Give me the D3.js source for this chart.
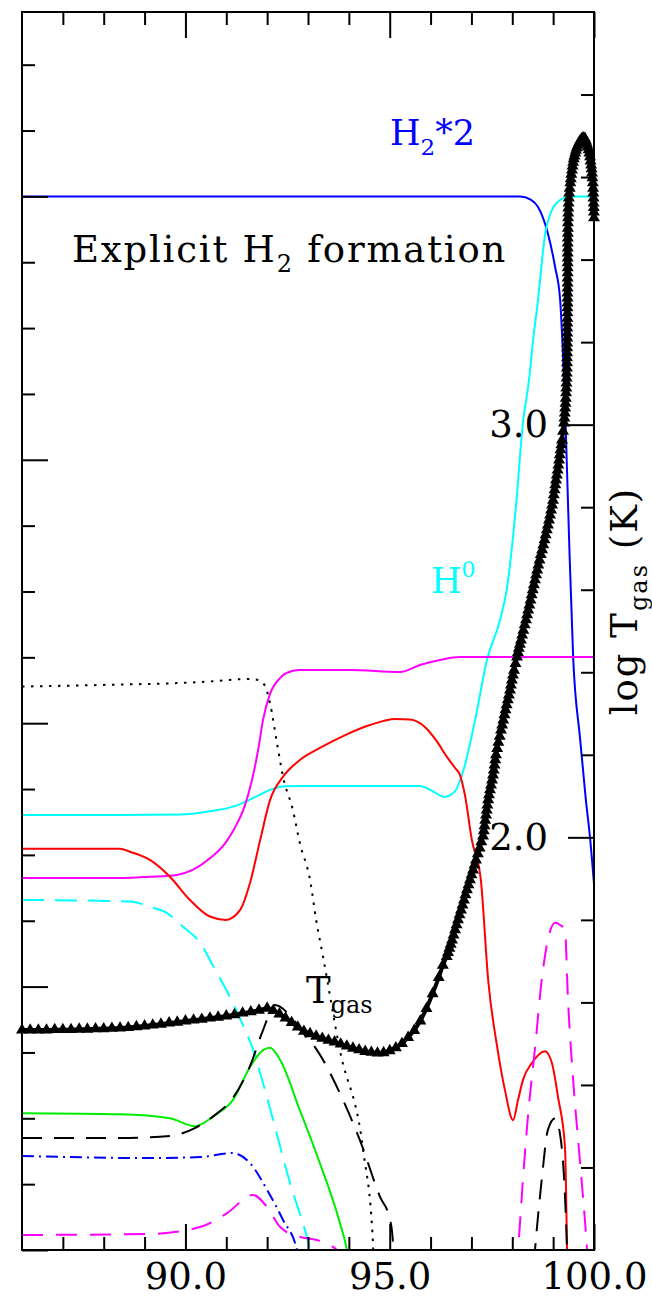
<!DOCTYPE html>
<html>
<head>
<meta charset="utf-8">
<script src="https://cdn.jsdelivr.net/npm/d3@7"></script>
<style>
  body { margin: 0; background: #fff; }
  svg text { font-family: "DejaVu Serif", serif; }
</style>
</head>
<body>
<div id="chart"></div>
<script>
// depth axis (bottom/top) and the two vertical scales
var depthDomain = [86, 100];
var abundDomain = [-4, 0.7];   // left axis, log abundance
var tempDomain = [1, 4];       // right axis, log T_gas

var xMajor = [90, 95, 100];
var xMinor = [87, 88, 89, 91, 92, 93, 94, 96, 97, 98, 99];
var xLabels = ["90.0", "95.0", "100.0"];
var abundMajor = [-4, -3, -2, -1, 0];
var abundMinor = [-3.75, -3.5, -3.25, -2.75, -2.5, -2.25, -1.75, -1.5, -1.25, -0.75, -0.5, -0.25, 0.25, 0.5];
var tempMajor = [2, 3];
var tempMinor = [1.2, 1.4, 1.6, 1.8, 2.2, 2.4, 2.6, 2.8, 3.2, 3.4, 3.6, 3.8];

// [depth, log abundance]
var h2x2 = [[86.0,0.0],[98.19,0.0],[98.45,-0.012],[98.63,-0.04],[98.87,-0.14],[99.05,-0.27],[99.17,-0.39],[99.24,-0.60],[99.31,-0.89],[99.39,-1.30],[99.49,-1.75],[99.66,-2.06],[99.80,-2.29],[99.90,-2.43],[100.0,-2.61]];
var hAtom = [[86.0,-2.349],[88.4,-2.349],[89.87,-2.347],[90.6,-2.334],[91.21,-2.315],[91.7,-2.281],[92.07,-2.253],[92.44,-2.239],[92.8,-2.238],[95.74,-2.238],[95.99,-2.253],[96.35,-2.280],[96.6,-2.258],[96.84,-2.159],[97.09,-1.988],[97.38,-1.760],[97.70,-1.608],[97.87,-1.487],[98.09,-1.176],[98.26,-0.86],[98.41,-0.697],[98.51,-0.545],[98.63,-0.393],[98.80,-0.147],[98.97,-0.052],[99.17,-0.014],[99.41,0.0],[100.0,0.0]];
var magentaSolid = [[86.0,-2.588],[88.4,-2.588],[89.13,-2.583],[89.79,-2.576],[90.6,-2.513],[90.97,-2.456],[91.21,-2.397],[91.46,-2.310],[91.63,-2.215],[91.78,-2.101],[91.9,-1.987],[92.07,-1.889],[92.32,-1.828],[92.61,-1.802],[92.8,-1.798],[94.03,-1.798],[95.25,-1.806],[95.74,-1.779],[96.23,-1.760],[96.72,-1.749],[100.0,-1.749]];
var redSolid = [[86.0,-2.477],[88.4,-2.477],[88.64,-2.488],[89.13,-2.519],[89.62,-2.583],[90.11,-2.671],[90.6,-2.734],[90.99,-2.747],[91.34,-2.709],[91.58,-2.607],[91.83,-2.443],[92.07,-2.292],[92.39,-2.203],[92.8,-2.140],[93.29,-2.094],[93.91,-2.045],[94.52,-2.007],[95.13,-1.984],[95.5,-1.986],[95.86,-2.014],[96.16,-2.070],[96.4,-2.128],[96.6,-2.170],[96.72,-2.197],[96.84,-2.272],[97.01,-2.443],[97.23,-2.595],[97.41,-2.975],[97.63,-3.229],[97.82,-3.393],[98.02,-3.507],[98.14,-3.431],[98.26,-3.355],[98.48,-3.290],[98.8,-3.245],[98.97,-3.290],[99.12,-3.420],[99.29,-3.610],[99.34,-4.0],[99.36,-4.2]];
var dottedBlack = [[86.0,-1.861],[87.91,-1.855],[90.36,-1.844],[91.58,-1.832],[91.78,-1.836],[91.95,-1.859],[92.07,-1.924],[92.24,-2.075],[92.39,-2.204],[92.63,-2.330],[92.8,-2.455],[93.05,-2.595],[93.2,-2.747],[93.37,-2.888],[93.78,-3.241],[94.35,-3.621],[94.59,-3.973],[94.62,-4.1]];
var cyanDashed = [[86.0,-2.671],[88.64,-2.677],[89.13,-2.697],[89.55,-2.721],[89.94,-2.773],[90.36,-2.834],[90.68,-2.922],[91.16,-3.062],[91.46,-3.165],[91.63,-3.228],[91.9,-3.367],[92.56,-3.746],[93.05,-4.0],[93.12,-4.05]];
var greenSolid = [[86.0,-3.481],[88.4,-3.485],[89.62,-3.500],[90.23,-3.530],[90.72,-3.488],[91.16,-3.431],[91.58,-3.305],[91.9,-3.241],[92.07,-3.232],[92.32,-3.279],[92.8,-3.469],[93.29,-3.670],[93.78,-3.897],[93.95,-4.0],[94.0,-4.05]];
var longDashBlack = [[86.0,-3.575],[88.4,-3.575],[89.62,-3.567],[90.23,-3.537],[90.72,-3.488],[91.16,-3.423],[91.58,-3.302],[91.9,-3.165],[92.19,-3.07],[92.56,-3.11],[92.88,-3.176],[93.22,-3.241],[93.78,-3.405],[94.27,-3.583],[94.76,-3.797],[95.01,-3.886],[95.08,-3.973],[95.1,-4.05],
  null,[98.53,-4.05],[98.556,-4.0],[98.72,-3.734],[98.87,-3.545],[99.05,-3.500],[99.21,-3.610],[99.34,-4.0],[99.35,-4.05]];
var blueDashDot = [[86.0,-3.643],[89.13,-3.651],[90.36,-3.647],[91.16,-3.632],[91.58,-3.670],[92.0,-3.772],[92.39,-3.886],[92.73,-4.0],[92.8,-4.05]];
var magentaDashed = [[86.0,-3.943],[89.13,-3.939],[90.36,-3.913],[91.02,-3.860],[91.65,-3.791],[92.0,-3.837],[92.32,-3.913],[92.8,-3.950],[93.22,-3.962],[93.71,-4.0],[93.9,-4.03],
  null,[98.09,-4.08],[98.14,-4.0],[98.26,-3.734],[98.39,-3.481],[98.56,-3.229],[98.72,-2.975],[98.87,-2.823],[99.05,-2.758],[99.17,-2.766],[99.29,-2.785],[99.36,-3.039],[99.49,-3.355],[99.66,-3.670],[99.83,-4.0],[99.85,-4.05]];

// [depth, log T_gas] (right axis), one pair per model zone
var tgas = [[86.0,1.533],[86.2,1.533],[86.4,1.533],[86.6,1.533],[86.8,1.534],[87.0,1.534],[87.2,1.534],[87.4,1.535],[87.6,1.535],[87.8,1.536],[88.0,1.536],[88.2,1.537],[88.4,1.538],[88.6,1.539],[88.8,1.541],[89.0,1.543],[89.2,1.545],[89.4,1.547],[89.6,1.550],[89.8,1.552],[90.0,1.555],[90.2,1.557],[90.4,1.559],[90.6,1.562],[90.8,1.564],[91.0,1.567],[91.2,1.570],[91.4,1.574],[91.6,1.577],[91.8,1.581],[92.0,1.586],
  [92.15,1.580],[92.3,1.572],[92.45,1.562],[92.6,1.551],[92.75,1.540],[92.9,1.530],[93.05,1.524],[93.2,1.518],[93.35,1.513],[93.5,1.508],[93.65,1.504],[93.8,1.499],[93.95,1.494],[94.1,1.489],[94.25,1.485],[94.4,1.481],[94.55,1.479],[94.7,1.477],[94.85,1.478],[95.0,1.483],[95.15,1.490],[95.3,1.500],[95.45,1.515],[95.6,1.532],[95.75,1.555],[95.9,1.585],[96.05,1.621],[96.2,1.660],[96.3,1.690],
  [96.395,1.711],[96.428,1.721],[96.46,1.731],[96.493,1.741],[96.525,1.751],[96.562,1.763],[96.6,1.776],[96.636,1.788],[96.672,1.800],[96.708,1.812],[96.745,1.824],[96.782,1.836],[96.818,1.848],[96.854,1.861],[96.89,1.873],[96.928,1.885],[96.965,1.897],[97.002,1.909],[97.04,1.921],[97.076,1.933],[97.112,1.945],[97.156,1.960],[97.2,1.974],[97.242,1.989],[97.283,2.003],[97.302,2.016],[97.32,2.028],[97.338,2.041],[97.357,2.054],[97.374,2.066],[97.39,2.078],[97.41,2.091],[97.43,2.103],[97.455,2.115],[97.48,2.127],[97.504,2.139],[97.528,2.151],[97.546,2.163],[97.565,2.175],[97.583,2.188],[97.601,2.200],[97.63,2.215],[97.66,2.230],[97.692,2.245],[97.724,2.260],[97.752,2.272],[97.78,2.284],[97.807,2.297],[97.834,2.309],[97.862,2.321],[97.89,2.333],[97.917,2.345],[97.944,2.357],[97.967,2.369],[97.99,2.381],[98.016,2.393],[98.042,2.405],[98.078,2.421],[98.115,2.437],[98.138,2.448],[98.16,2.458],[98.186,2.468],[98.213,2.478],[98.242,2.490],[98.27,2.502],[98.303,2.515],[98.336,2.527],[98.363,2.539],[98.39,2.551],[98.418,2.563],[98.446,2.575],[98.473,2.588],[98.5,2.600],[98.528,2.612],[98.556,2.624],[98.583,2.636],[98.61,2.648],[98.638,2.660],[98.666,2.672],[98.698,2.685],[98.73,2.697],[98.76,2.709],[98.789,2.721],[98.817,2.733],[98.845,2.745],[98.872,2.757],[98.899,2.769],[98.925,2.781],[98.95,2.793],[98.974,2.805],[98.997,2.817],[99.016,2.830],[99.035,2.842],[99.053,2.854],[99.07,2.866],[99.09,2.878],[99.11,2.890],[99.127,2.902],[99.144,2.914],[99.162,2.927],[99.18,2.939],[99.2,2.951],[99.217,2.963],[99.242,2.984],[99.266,3.004],
  [99.276,3.016],[99.285,3.028],[99.294,3.040],[99.303,3.052],[99.310,3.064],[99.317,3.077],[99.322,3.089],[99.327,3.101],[99.331,3.113],[99.334,3.125],[99.337,3.137],[99.339,3.150],[99.341,3.162],[99.342,3.174],[99.343,3.186],[99.344,3.198],[99.345,3.210],[99.346,3.222],[99.347,3.234],[99.348,3.246],[99.349,3.258],[99.350,3.271],[99.3505,3.283],[99.351,3.295],[99.3515,3.307],[99.352,3.319],[99.353,3.331],[99.354,3.343],[99.3545,3.355],[99.355,3.368],[99.3555,3.380],[99.356,3.392],[99.3565,3.404],[99.357,3.416],[99.3575,3.428],[99.358,3.440],[99.359,3.452],[99.360,3.464],[99.361,3.476],[99.363,3.489],[99.365,3.501],[99.368,3.513],[99.372,3.525],[99.378,3.537],[99.385,3.549],[99.393,3.561],[99.405,3.573],[99.420,3.586],[99.432,3.596],[99.445,3.607],[99.460,3.617],[99.475,3.627],[99.49,3.636],[99.505,3.644],[99.522,3.651],[99.540,3.658],[99.56,3.665],[99.580,3.671],[99.606,3.677],[99.633,3.683],[99.656,3.687],[99.680,3.690],[99.705,3.693],[99.731,3.695],[99.755,3.694],[99.780,3.693],[99.805,3.687],[99.829,3.680],[99.85,3.673],[99.870,3.666],[99.886,3.658],[99.902,3.649],[99.916,3.639],[99.930,3.629],[99.941,3.620],[99.951,3.610],[99.962,3.598],[99.972,3.586],[99.978,3.573],[99.984,3.561],[99.988,3.549],[99.992,3.537],[99.995,3.526],[99.997,3.515],[100.0,3.501]];

(function() {

  var width = 652, height = 1302;
  var x0 = 22, x1 = 594, y0 = 12, y1 = 1250;

  var svg = d3.select("#chart").append("svg")
    .attr("width", width)
    .attr("height", height);

  var x = d3.scaleLinear().domain(depthDomain).range([x0, x1]);
  var yL = d3.scaleLinear().domain(abundDomain).range([y1, y0]);
  var yR = d3.scaleLinear().domain(tempDomain).range([y1, y0]);

  svg.append("clipPath").attr("id", "plotclip")
    .append("rect").attr("x", x0).attr("y", y0).attr("width", x1 - x0).attr("height", y1 - y0);

  //curves on the abundance axis
  var series = [
    { data: h2x2,          color: "#0000ff", dash: null },
    { data: hAtom,         color: "#00ffff", dash: null },
    { data: magentaSolid,  color: "#ff00ff", dash: null },
    { data: redSolid,      color: "#ff0000", dash: null },
    { data: dottedBlack,   color: "#000000", dash: "2.5,6.5" },
    { data: cyanDashed,    color: "#00ffff", dash: "22,11" },
    { data: greenSolid,    color: "#00ee00", dash: null },
    { data: longDashBlack, color: "#000000", dash: "20,12" },
    { data: blueDashDot,   color: "#0000ff", dash: "12,5,2,5" },
    { data: magentaDashed, color: "#ff00ff", dash: "21,13" }
  ];

  var abundLine = d3.line()
    .defined(function(d) { return d; })
    .x(function(d) { return x(d[0]); })
    .y(function(d) { return yL(d[1]); })
    .curve(d3.curveMonotoneX);

  var curves = svg.append("g").attr("clip-path", "url(#plotclip)");
  curves.selectAll("path.curve")
    .data(series)
    .enter().append("path")
    .attr("class", "curve")
    .attr("d", function(s) { return abundLine(s.data); })
    .attr("fill", "none")
    .attr("stroke", function(s) { return s.color; })
    .attr("stroke-width", 2)
    .attr("stroke-dasharray", function(s) { return s.dash; });

  //gas temperature with triangles
  var tLine = d3.line()
    .x(function(d) { return x(d[0]); })
    .y(function(d) { return yR(d[1]); });

  svg.append("path")
    .attr("d", tLine(tgas))
    .attr("fill", "none")
    .attr("stroke", "#000")
    .attr("stroke-width", 4);

  svg.selectAll("path.tri")
    .data(tgas)
    .enter().append("path")
    .attr("class", "tri")
    .attr("d", d3.symbol(d3.symbolTriangle, 62))
    .attr("transform", function(d) { return "translate(" + x(d[0]) + "," + yR(d[1]) + ")"; })
    .attr("fill", "#000");

  //frame and inward ticks
  function tickStyle(g) {
    g.select(".domain").remove();
    g.selectAll(".tick line").attr("stroke", "#000").attr("stroke-width", 2);
  }

  svg.append("g").attr("transform", "translate(0," + y0 + ")")
    .call(d3.axisBottom(x).tickValues(xMinor).tickSize(13).tickFormat("")).call(tickStyle);
  svg.append("g").attr("transform", "translate(0," + y0 + ")")
    .call(d3.axisBottom(x).tickValues(xMajor).tickSize(26).tickFormat("")).call(tickStyle);
  svg.append("g").attr("transform", "translate(0," + y1 + ")")
    .call(d3.axisTop(x).tickValues(xMinor).tickSize(13).tickFormat("")).call(tickStyle);
  svg.append("g").attr("transform", "translate(0," + y1 + ")")
    .call(d3.axisTop(x).tickValues(xMajor).tickSize(26).tickFormat("")).call(tickStyle);

  svg.append("g").attr("transform", "translate(" + x0 + ",0)")
    .call(d3.axisRight(yL).tickValues(abundMinor).tickSize(13).tickFormat("")).call(tickStyle);
  svg.append("g").attr("transform", "translate(" + x0 + ",0)")
    .call(d3.axisRight(yL).tickValues(abundMajor).tickSize(26).tickFormat("")).call(tickStyle);

  svg.append("g").attr("transform", "translate(" + x1 + ",0)")
    .call(d3.axisLeft(yR).tickValues(tempMinor).tickSize(13).tickFormat("")).call(tickStyle);
  var tempAxis = svg.append("g").attr("transform", "translate(" + x1 + ",0)")
    .call(d3.axisLeft(yR).tickValues(tempMajor).tickSize(26).tickPadding(20).tickFormat(d3.format(".1f")))
    .call(tickStyle);
  tempAxis.attr("font-size", 37).attr("font-family", "DejaVu Serif");

  var xLab = svg.append("g").attr("transform", "translate(0," + y1 + ")")
    .call(d3.axisBottom(x).tickValues(xMajor).tickSize(0).tickPadding(13)
      .tickFormat(function(d, i) { return xLabels[i]; }));
  xLab.select(".domain").remove();
  xLab.attr("font-size", 37).attr("font-family", "DejaVu Serif");

  svg.append("rect")
    .attr("x", x0).attr("y", y0)
    .attr("width", x1 - x0).attr("height", y1 - y0)
    .attr("fill", "none").attr("stroke", "#000").attr("stroke-width", 2);

  //annotations
  var t1 = svg.append("text").attr("x", 72).attr("y", 262).attr("font-size", 37)
    .attr("letter-spacing", 1.8).attr("fill", "#000");
  t1.append("tspan").text("Explicit H");
  t1.append("tspan").attr("dy", 10).attr("font-size", 24).text("2");
  t1.append("tspan").attr("dy", -10).text(" formation");

  var t2 = svg.append("text").attr("x", 390).attr("y", 145).attr("font-size", 35).attr("fill", "#0000ff");
  t2.append("tspan").text("H");
  t2.append("tspan").attr("dy", 10).attr("font-size", 23).text("2");
  t2.append("tspan").attr("dy", -10).text("*2");

  var t3 = svg.append("text").attr("x", 431).attr("y", 593).attr("font-size", 35).attr("fill", "#00ffff");
  t3.append("tspan").text("H");
  t3.append("tspan").attr("dy", -16).attr("font-size", 22).text("0");

  var t4 = svg.append("text").attr("x", 306).attr("y", 1003).attr("font-size", 37).attr("fill", "#000");
  t4.append("tspan").text("T");
  t4.append("tspan").attr("dy", 10).attr("font-size", 24).text("gas");

  var t5 = svg.append("text")
    .attr("transform", "translate(637,601) rotate(-90)")
    .attr("text-anchor", "middle").attr("font-size", 37)
    .attr("letter-spacing", 2).attr("fill", "#000");
  t5.append("tspan").text("log T");
  t5.append("tspan").attr("dy", 10).attr("font-size", 24).text("gas");
  t5.append("tspan").attr("dy", -10).text(" (K)");

})();
</script>
</body>
</html>
